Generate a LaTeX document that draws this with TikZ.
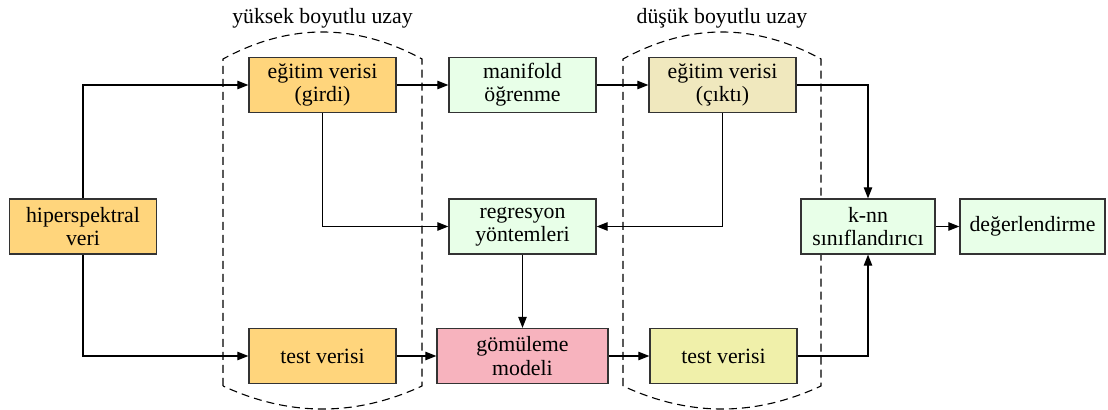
\documentclass[tikz,border=0pt]{standalone}
\usepackage{fontspec}
\setmainfont{Liberation Serif}
\usetikzlibrary{arrows.meta}
\definecolor{cOrange}{HTML}{FFD57C}
\definecolor{cGreen}{HTML}{E8FFE8}
\definecolor{cKhaki}{HTML}{F0E8BE}
\definecolor{cYellow}{HTML}{F0F0AA}
\definecolor{cPink}{HTML}{F7B3BE}
\definecolor{cBorder}{HTML}{333333}
\begin{document}
\begin{tikzpicture}[x=0.5pt,y=-0.5pt,
  box/.style={draw=cBorder, line width=0.6pt, inner sep=0pt, align=center,
    minimum width=73.5pt, minimum height=27.5pt,
    font=\rmfamily\fontsize{10.9}{11.6}\selectfont},
  arr/.style={line width=0.55pt, -{Triangle[length=5.5pt,width=4.2pt]}},
  region/.style={line width=0.55pt, dash pattern=on 4pt off 2.5pt},
  lab/.style={font=\rmfamily\fontsize{10.9}{12}\selectfont, inner sep=0pt}]
\useasboundingbox (0,0) rectangle (1108,410);

% dashed regions
\draw[region] (223,386) -- (223,59) .. controls (289.3,23) and (355.7,23) .. (422,59)
  -- (422,386) .. controls (355.7,416.7) and (289.3,416.7) .. cycle;
\draw[region] (623,386) -- (623,59) .. controls (689.3,23) and (754.7,23) .. (821,59)
  -- (821,386) .. controls (754.7,416.7) and (689.3,416.7) .. cycle;
\node[lab] (lhigh) at (322.5,18) {yüksek boyutlu uzay};
\node[lab] (llow) at (722,18) {düşük boyutlu uzay};

% nodes
\node[box, fill=cOrange] (hs) at (83,226.5) {hiperspektral\\veri};
\node[box, fill=cOrange] (eg1) at (322.5,85) {eğitim verisi\\(girdi)};
\node[box, fill=cGreen] (mf) at (522.5,85) {manifold\\öğrenme};
\node[box, fill=cKhaki] (eg2) at (722.5,85) {eğitim verisi\\(çıktı)};
\node[box, fill=cGreen] (reg) at (522.5,226.5) {regresyon\\yöntemleri};
\node[box, fill=cGreen, minimum width=67pt] (knn) at (868,226.5) {k-nn\\sınıflandırıcı};
\node[box, fill=cGreen, minimum width=72.5pt] (deg) at (1032.5,226.5) {değerlendirme};
\node[box, fill=cOrange] (tv1) at (322.5,356) {test verisi};
\node[box, fill=cPink, minimum width=85.5pt] (gm) at (522.5,356) {gömüleme\\modeli};
\node[box, fill=cYellow] (tv2) at (723.5,356) {test verisi};

% connectors
\draw[arr] (hs.north) |- (eg1.west);
\draw[arr] (hs.south) |- (tv1.west);
\draw[arr] (eg1.east) -- (mf.west);
\draw[arr] (mf.east) -- (eg2.west);
\draw[arr] (eg1.south) |- (reg.west);
\draw[arr] (eg2.south) |- (reg.east);
\draw[arr] (reg.south) -- (gm.north);
\draw[arr] (tv1.east) -- (gm.west);
\draw[arr] (gm.east) -- (tv2.west);
\draw[arr] (eg2.east) -| (knn.north);
\draw[arr] (tv2.east) -| (knn.south);
\draw[arr] (knn.east) -- (deg.west);
\end{tikzpicture}
\end{document}
